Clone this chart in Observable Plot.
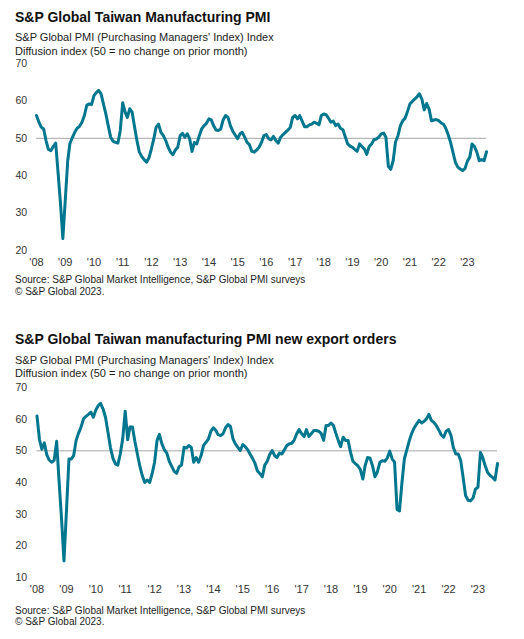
<!DOCTYPE html>
<html>
<head>
<meta charset="utf-8">
<script src="https://cdn.jsdelivr.net/npm/d3@7"></script>
<script src="https://cdn.jsdelivr.net/npm/@observablehq/plot@0.6"></script>
<style>
  html, body { margin: 0; padding: 0; background: #fff; }
  #root { position: relative; width: 524px; height: 639px; font-family: "Liberation Sans", Arial, sans-serif; color: #1a1a1a; overflow: hidden; }
  .t { position: absolute; left: 15px; white-space: nowrap; }
  .title { font-size: 14px; font-weight: bold; line-height: 14px; color: #111; }
  .sub { font-size: 11px; line-height: 14px; color: #222; }
  .src { font-size: 10px; line-height: 12px; color: #222; }
  .chart { position: absolute; left: 0; }
  .chart svg { background: transparent !important; }
</style>
</head>
<body>
<div id="root">
  <div class="t title" style="top:10px">S&amp;P Global Taiwan Manufacturing PMI</div>
  <div class="t sub" style="top:30px">S&amp;P Global PMI (Purchasing Managers' Index) Index</div>
  <div class="t sub" style="top:44px">Diffusion index (50 = no change on prior month)</div>
  <div class="chart" id="c1" style="top:56px"></div>
  <div class="t src" style="top:274px">Source: S&amp;P Global Market Intelligence, S&amp;P Global PMI surveys</div>
  <div class="t src" style="top:286px">© S&amp;P Global 2023.</div>

  <div class="t title" style="top:332px">S&amp;P Global Taiwan manufacturing PMI new export orders</div>
  <div class="t sub" style="top:353px">S&amp;P Global PMI (Purchasing Managers' Index) Index</div>
  <div class="t sub" style="top:366px">Diffusion index (50 = no change on prior month)</div>
  <div class="chart" id="c2" style="top:380px"></div>
  <div class="t src" style="top:605px">Source: S&amp;P Global Market Intelligence, S&amp;P Global PMI surveys</div>
  <div class="t src" style="top:616px">© S&amp;P Global 2023.</div>
</div>
<script>
// Monthly data, Jan 2008 .. Sep 2023
const startMonth = new Date(Date.UTC(2008, 0, 1));
const endMonth = new Date(Date.UTC(2023, 8, 1));

const pmiHeadline = [
  56.1,54.3,53.0,52.5,49.4,47.0,46.7,47.8,48.7,40.9,32.6,23.2,
  33.5,44.0,48.6,50.2,51.6,52.7,53.2,54.3,56.1,58.8,59.2,59.0,
  61.4,62.3,62.8,61.9,59.2,56.5,53.4,50.3,49.2,48.9,48.7,52.1,
  59.5,57.0,55.6,57.9,57.0,53.0,49.4,46.3,45.1,44.3,43.6,44.8,
  47.2,49.9,53.0,53.8,51.6,50.7,49.4,47.6,46.3,45.6,46.9,47.6,
  50.7,51.3,50.3,51.2,49.9,46.5,48.9,48.5,50.7,52.5,53.4,54.0,
  55.2,54.9,53.4,52.2,52.1,52.5,54.9,56.1,55.6,53.4,51.9,50.9,
  49.9,51.2,51.6,50.3,48.9,48.3,46.5,46.3,46.9,47.6,48.9,50.7,
  51.0,49.9,49.6,50.5,49.4,48.7,50.3,51.0,51.6,52.2,52.9,55.6,
  56.1,55.2,56.1,54.6,53.1,53.1,53.6,53.8,54.3,54.0,53.6,56.1,
  56.5,56.3,55.4,54.3,54.6,53.4,53.8,52.7,52.3,50.4,48.5,47.9,
  47.6,47.0,46.5,48.5,47.8,47.2,45.7,47.8,48.5,49.6,49.8,50.3,
  51.2,51.4,50.3,42.5,41.7,44.0,49.0,50.7,53.4,54.7,55.4,57.2,
  59.2,59.9,60.5,61.1,61.9,60.5,57.6,59.3,57.8,54.7,54.9,55.0,
  54.7,54.1,53.8,52.7,51.0,48.9,46.3,43.6,42.3,41.8,41.4,41.9,
  43.9,45.0,48.5,47.8,46.3,44.0,44.3,44.0,46.4
];

const pmiExportOrders = [
  61.0,53.5,50.5,52.5,48.8,47.1,46.4,47.0,53.0,40.5,28.5,15.2,
  31.0,47.4,47.4,48.5,53.3,55.6,57.5,60.1,60.9,61.5,62.2,60.6,
  62.9,64.3,65.0,63.2,60.6,55.9,51.1,47.7,45.9,45.5,49.0,53.8,
  62.5,53.5,57.5,57.5,53.0,49.0,45.3,42.2,40.0,40.8,40.0,42.7,
  46.4,53.3,55.2,52.2,50.4,49.3,46.7,45.1,43.5,42.9,45.0,45.5,
  51.1,50.9,51.7,51.1,46.4,47.9,46.4,48.5,51.7,52.7,53.8,56.2,
  57.3,56.4,55.1,54.8,55.4,57.3,58.3,57.7,53.8,52.2,51.1,50.1,
  52.0,51.3,50.4,49.0,47.7,46.1,43.7,42.8,41.8,45.5,46.7,48.8,
  50.1,48.5,47.9,49.3,49.0,50.3,51.7,52.2,52.4,53.4,55.4,56.7,
  55.4,54.5,56.7,54.5,55.4,56.4,56.4,56.2,55.5,53.3,58.0,58.0,
  58.8,58.0,55.6,53.3,51.3,54.3,53.3,53.3,49.5,46.7,45.9,45.3,
  44.1,41.1,45.3,47.9,47.7,45.3,41.8,43.4,46.4,46.9,46.7,47.7,
  49.9,47.4,46.4,31.5,31.0,40.0,47.5,50.4,53.3,55.6,57.3,58.5,
  59.6,58.8,59.3,60.1,61.5,59.6,59.0,58.0,56.6,55.1,54.3,56.2,
  56.7,54.8,51.1,49.0,49.0,46.9,41.6,35.8,34.4,34.2,35.1,37.9,
  38.5,49.5,47.9,45.3,43.2,42.2,41.6,40.8,46.0
];

const yearLabels = ["'08","'09","'10","'11","'12","'13","'14","'15","'16","'17","'18","'19","'20","'21","'22","'23"];
const yTicks1 = [20, 30, 40, 50, 60, 70];
const yTicks2 = [10, 20, 30, 40, 50, 60, 70];
const referenceLine = [50];

const months = d3.utcMonth.range(startMonth, d3.utcMonth.offset(endMonth, 1));
const yearTicks = yearLabels.map((_, i) => new Date(Date.UTC(2008 + i, 0, 1)));
const fmtYear = d => yearLabels[d.getUTCFullYear() - 2008];

const lineColor = "#00768f";

function makeChart({values, yDomain, yTicks, height, marginLeft, marginRight}) {
  const data = months.map((date, i) => ({date, value: values[i]}));
  return Plot.plot({
    width: 524,
    height,
    marginTop: 7,
    marginBottom: 20,
    marginLeft,
    marginRight,
    style: {fontFamily: "'Liberation Sans', Arial, sans-serif", background: "transparent", color: "#333"},
    x: {type: "utc", domain: [startMonth, endMonth]},
    y: {domain: yDomain},
    marks: [
      Plot.axisX({ticks: yearTicks, tickFormat: fmtYear, tickSize: 0, tickPadding: 8, fontSize: 11, fill: "#333", label: null}),
      Plot.axisY({ticks: yTicks, tickSize: 0, tickPadding: marginLeft - 15, textAnchor: "start", fontSize: 10.5, fill: "#333", label: null}),
      Plot.ruleY(referenceLine, {stroke: "#a6a6a6", strokeWidth: 1}),
      Plot.line(data, {x: "date", y: "value", stroke: lineColor, strokeWidth: 3, strokeLinejoin: "round", strokeLinecap: "round"})
    ]
  });
}

document.getElementById("c1").appendChild(makeChart({
  values: pmiHeadline, yDomain: [20, 70], yTicks: yTicks1, height: 214, marginLeft: 36, marginRight: 38
}));
document.getElementById("c2").appendChild(makeChart({
  values: pmiExportOrders, yDomain: [10, 70], yTicks: yTicks2, height: 217, marginLeft: 36.5, marginRight: 27
}));
</script>
</body>
</html>
